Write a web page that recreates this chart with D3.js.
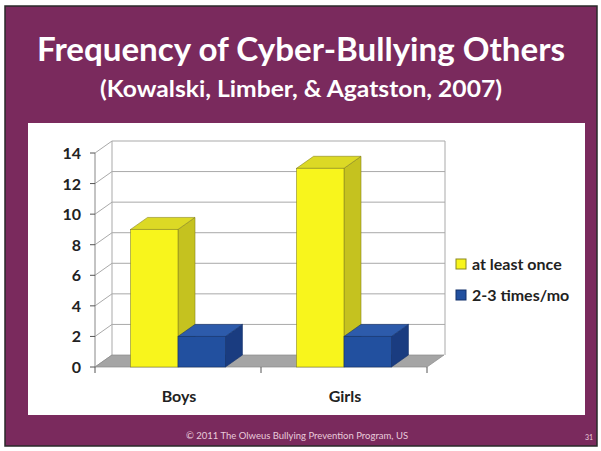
<!DOCTYPE html>
<html>
<head>
<meta charset="utf-8">
<script src="https://cdn.jsdelivr.net/npm/d3@7"></script>
<style>
  body { margin: 0; background: #fff; }
  svg text { font-family: Lato, "Open Sans", sans-serif; }
</style>
</head>
<body>
<div id="chart"></div>
<script>
// chart data
const categories = ["Boys", "Girls"];
const seriesNames = ["at least once", "2-3 times/mo"];
const atLeastOnce = [9, 13];
const twoThreeTimes = [2, 2];
const yTicks = [0, 2, 4, 6, 8, 10, 12, 14];

const seriesValues = [atLeastOnce, twoThreeTimes];
const colors = [
    { front: "#f8f51c", side: "#c5c21f", top: "#dcd925", stroke: "#8a8720" },
    { front: "#22509f", side: "#1a3c80", top: "#2d5bab", stroke: "#12306a" }
];

const width = 601, height = 451;

const svg = d3.select("#chart").append("svg")
    .attr("width", width)
    .attr("height", height);

// slide background
svg.append("rect")
    .attr("x", 5).attr("y", 6)
    .attr("width", 592).attr("height", 440)
    .attr("fill", "#7a2a5d")
    .attr("stroke", "#2a2a2a")
    .attr("stroke-width", 1.5);

// white chart panel
svg.append("rect")
    .attr("x", 28).attr("y", 123)
    .attr("width", 557).attr("height", 292)
    .attr("fill", "#ffffff");

// titles
svg.append("text")
    .attr("x", 301).attr("y", 61)
    .attr("text-anchor", "middle")
    .attr("fill", "#ffffff")
    .attr("font-weight", "bold")
    .attr("font-size", 33)
    .attr("textLength", 528)
    .attr("lengthAdjust", "spacingAndGlyphs")
    .text("Frequency of Cyber-Bullying Others");

svg.append("text")
    .attr("x", 301).attr("y", 97)
    .attr("text-anchor", "middle")
    .attr("fill", "#ffffff")
    .attr("font-weight", "bold")
    .attr("font-size", 23)
    .attr("textLength", 402)
    .attr("lengthAdjust", "spacingAndGlyphs")
    .text("(Kowalski, Limber, & Agatston, 2007)");

// footer
svg.append("text")
    .attr("x", 297).attr("y", 439)
    .attr("text-anchor", "middle")
    .attr("fill", "#e9cadb")
    .attr("font-size", 9.5)
    .text("\u00A9 2011 The Olweus Bullying Prevention Program, US");

svg.append("text")
    .attr("x", 589).attr("y", 440)
    .attr("text-anchor", "middle")
    .attr("fill", "#e9cadb")
    .attr("font-size", 7)
    .text("31");

// scales
const x0 = d3.scaleBand()
    .domain(categories)
    .range([95, 427]);

const x1 = d3.scaleBand()
    .domain(d3.range(seriesNames.length))
    .range([0, x0.bandwidth()])
    .paddingOuter(0.75);

const y = d3.scaleLinear()
    .domain([0, 14])
    .range([367, 153]);

// 3D depth offset
const dx = 17, dy = -12;

const g = svg.append("g");

// back wall gridlines
const wallLeft = x0.range()[0] + dx;
const wallRight = x0.range()[1] + dx + 1;

g.selectAll(".grid")
    .data(yTicks.filter(d => d > 0))
    .enter().append("line")
    .attr("x1", wallLeft).attr("x2", wallRight)
    .attr("y1", d => y(d) + dy).attr("y2", d => y(d) + dy)
    .attr("stroke", "#a9a9a9")
    .attr("stroke-width", 1);

g.append("line")
    .attr("x1", wallLeft).attr("x2", wallLeft)
    .attr("y1", y(14) + dy).attr("y2", y(0) + dy)
    .attr("stroke", "#a9a9a9");

g.append("line")
    .attr("x1", wallRight).attr("x2", wallRight)
    .attr("y1", y(14) + dy).attr("y2", y(0) + dy)
    .attr("stroke", "#a9a9a9");

// side wall lines
g.selectAll(".side")
    .data(yTicks)
    .enter().append("line")
    .attr("x1", x0.range()[0]).attr("x2", wallLeft)
    .attr("y1", d => y(d)).attr("y2", d => y(d) + dy)
    .attr("stroke", "#a9a9a9");

// floor
const fx0 = x0.range()[0], fx1 = x0.range()[1];
g.append("polygon")
    .attr("points", [
        [fx0, y(0)], [fx1, y(0)], [fx1 + dx, y(0) + dy], [fx0 + dx, y(0) + dy]
    ].map(p => p.join(",")).join(" "))
    .attr("fill", "#a5a5a5")
    .attr("stroke", "#8a8a8a")
    .attr("stroke-width", 0.7);

// y axis
g.append("line")
    .attr("x1", fx0).attr("x2", fx0)
    .attr("y1", y(14)).attr("y2", y(0))
    .attr("stroke", "#888");

g.selectAll(".ytick")
    .data(yTicks)
    .enter().append("line")
    .attr("x1", fx0 - 5).attr("x2", fx0)
    .attr("y1", d => y(d)).attr("y2", d => y(d))
    .attr("stroke", "#555");

g.selectAll(".ylabel")
    .data(yTicks)
    .enter().append("text")
    .attr("x", 81)
    .attr("y", d => y(d) + 6)
    .attr("text-anchor", "end")
    .attr("font-weight", "bold")
    .attr("font-size", 16)
    .attr("fill", "#222")
    .text(d => d);

// category ticks
g.selectAll(".xtick")
    .data([fx0, x0("Girls"), fx1])
    .enter().append("line")
    .attr("x1", d => d).attr("x2", d => d)
    .attr("y1", y(0)).attr("y2", y(0) + 6)
    .attr("stroke", "#555");

// bars
categories.forEach((cat, ci) => {
    seriesValues.forEach((vals, si) => {
        const c = colors[si];
        const bx = x0(cat) + x1(si);
        const bw = x1.bandwidth();
        const yt = y(vals[ci]);
        const yb = y(0);

        // side face
        g.append("polygon")
            .attr("points", [
                [bx + bw, yt], [bx + bw + dx, yt + dy], [bx + bw + dx, yb + dy], [bx + bw, yb]
            ].map(p => p.join(",")).join(" "))
            .attr("fill", c.side)
            .attr("stroke", c.stroke)
            .attr("stroke-width", 0.6);

        // top face
        g.append("polygon")
            .attr("points", [
                [bx, yt], [bx + dx, yt + dy], [bx + bw + dx, yt + dy], [bx + bw, yt]
            ].map(p => p.join(",")).join(" "))
            .attr("fill", c.top)
            .attr("stroke", c.stroke)
            .attr("stroke-width", 0.6);

        // front face
        g.append("rect")
            .attr("x", bx).attr("y", yt)
            .attr("width", bw).attr("height", yb - yt)
            .attr("fill", c.front)
            .attr("stroke", c.stroke)
            .attr("stroke-width", 0.6);
    });
});

// category labels
g.selectAll(".xlabel")
    .data(categories)
    .enter().append("text")
    .attr("x", d => x0(d) + x0.bandwidth() / 2 + 1)
    .attr("y", 402)
    .attr("text-anchor", "middle")
    .attr("font-weight", "bold")
    .attr("font-size", 16)
    .attr("fill", "#222")
    .text(d => d);

// legend
const legend = g.selectAll(".legend")
    .data(seriesNames)
    .enter().append("g")
    .attr("transform", (d, i) => `translate(456, ${264 + i * 31})`);

legend.append("rect")
    .attr("x", 0).attr("y", -5)
    .attr("width", 10).attr("height", 10)
    .attr("fill", (d, i) => colors[i].front)
    .attr("stroke", (d, i) => colors[i].stroke)
    .attr("stroke-width", 1);

legend.append("text")
    .attr("x", 16).attr("y", 5.5)
    .attr("font-weight", "bold")
    .attr("font-size", 16)
    .attr("fill", "#222")
    .text(d => d);
</script>
</body>
</html>
